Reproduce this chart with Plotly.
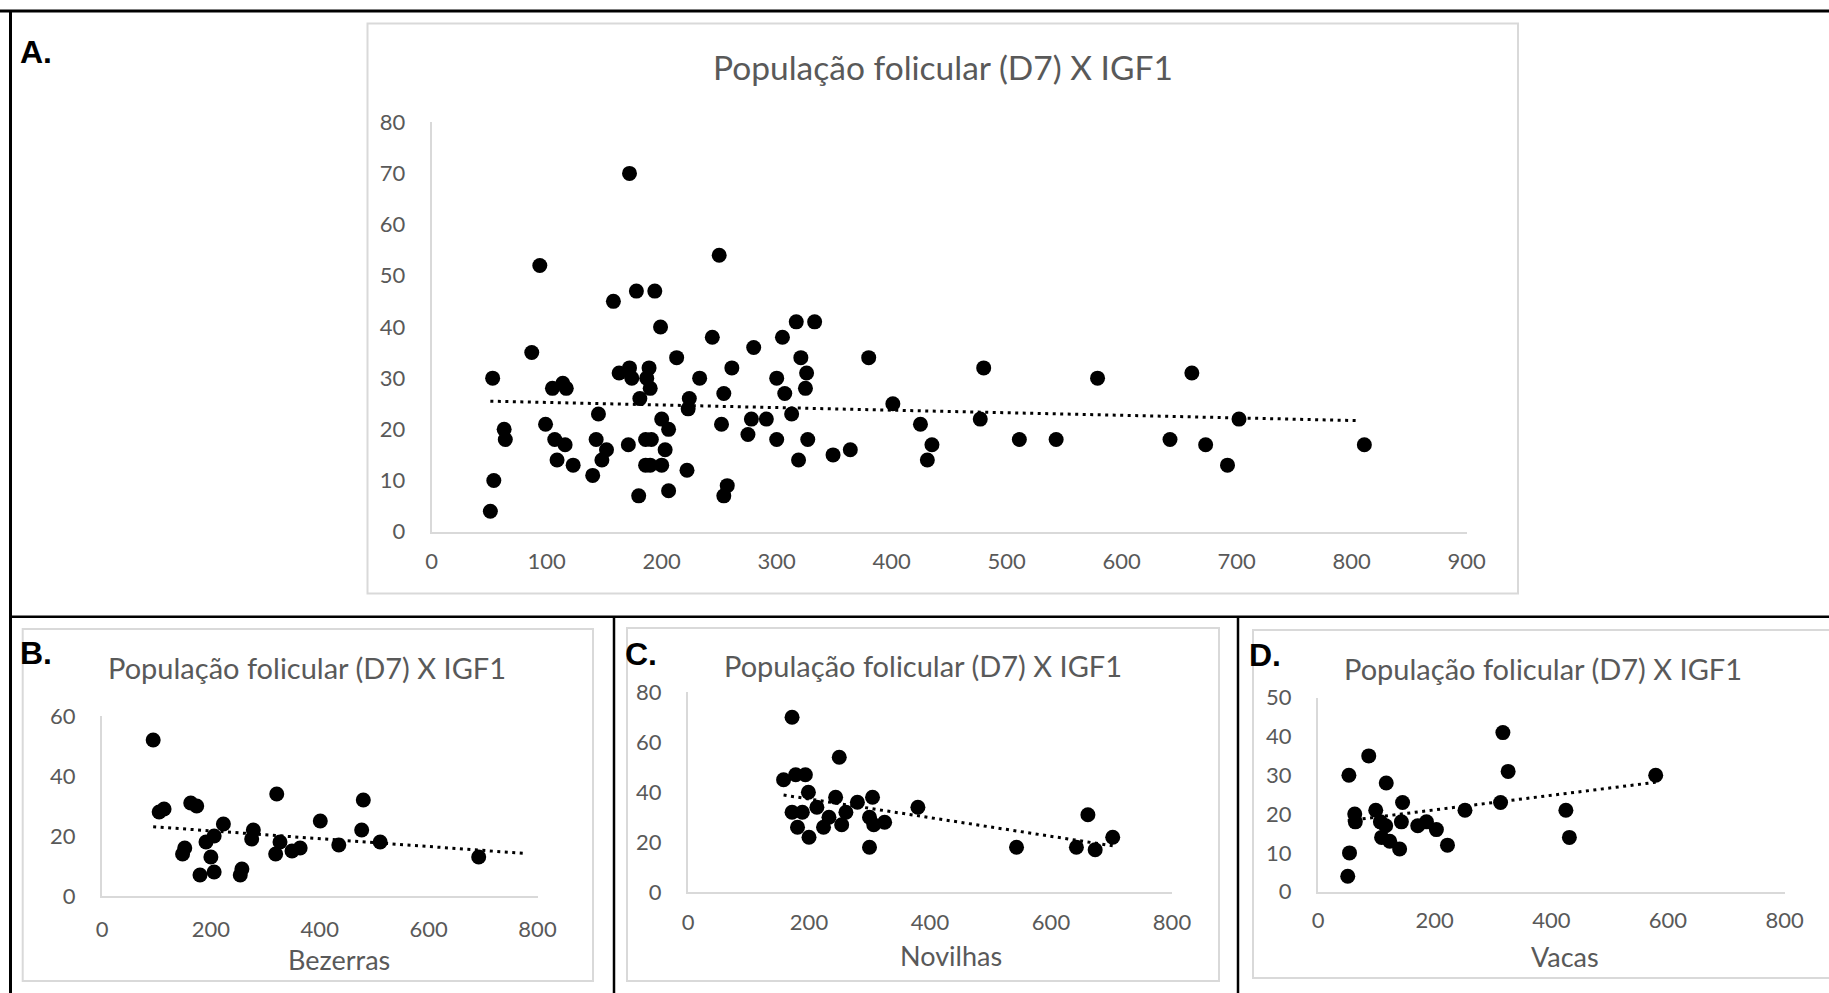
import plotly.graph_objects as go

W, H = 1829, 993

# ---------------- data (IGF1 x follicular population D7) ----------------
# Bezerras
bez_x = [94, 105, 114, 148, 152, 163, 174, 180, 191, 206, 200, 206, 223, 257, 254,
         275, 278, 319, 321, 327, 349, 364, 401, 435, 480, 477, 511, 692]
bez_y = [52, 28, 29, 14, 16, 31, 30, 7, 18, 20, 13, 8, 24, 9, 7,
         19, 22, 14, 34, 18, 15, 16, 25, 17, 32, 22, 18, 13]
# Novilhas
nov_x = [158, 172, 172, 178, 181, 189, 194, 199, 200, 213, 224, 233, 244, 250, 254,
         261, 280, 300, 300, 305, 307, 325, 380, 543, 642, 661, 673, 702]
nov_y = [45, 32, 70, 47, 26, 32, 47, 40, 22, 34, 26, 30, 38, 54, 27,
         32, 36, 30, 18, 38, 27, 28, 34, 18, 18, 31, 17, 22]
# Vacas
vac_x = [53, 54, 51, 63, 64, 87, 99, 117, 107, 116, 109, 123, 140, 143, 145,
         171, 186, 203, 222, 252, 313, 317, 326, 425, 431, 579]
vac_y = [30, 10, 4, 20, 18, 35, 21, 28, 18, 17, 14, 13, 11, 18, 23,
         17, 18, 16, 12, 21, 23, 41, 31, 21, 14, 30]
# other animals shown only in the pooled chart
other_x = [187, 190, 186, 190, 291, 333, 811]
other_y = [30, 28, 13, 13, 22, 41, 17]

all_x = bez_x + nov_x + vac_x + other_x
all_y = bez_y + nov_y + vac_y + other_y

# linear trend lines
trend_all_x, trend_all_y = [51, 806], [25.5, 21.7]
trend_bez_x, trend_bez_y = [94, 776], [23.1, 14.2]
trend_nov_x, trend_nov_y = [158, 702], [38.9, 18.6]
trend_vac_x, trend_vac_y = [51, 579], [18.3, 28.2]

title_text = "População folicular (D7) X IGF1"
x_ticks_A = [0, 100, 200, 300, 400, 500, 600, 700, 800, 900]
y_ticks_A = [0, 10, 20, 30, 40, 50, 60, 70, 80]
x_ticks_sub = [0, 200, 400, 600, 800]
y_ticks_B = [0, 20, 40, 60]
y_ticks_C = [0, 20, 40, 60, 80]
y_ticks_D = [0, 10, 20, 30, 40, 50]

# ---------------- styling ----------------
FONT = "Lato"
GREY_TXT = "#595959"
AXIS_LINE = "#d9d9d9"


def px_x(p):
    return p / W


def px_y(p):
    return 1 - p / H


fig = go.Figure()

panels = [
    ("", all_x, all_y, trend_all_x, trend_all_y, (431.7, 1466.7), (122.2, 531.7), [0, 900], [0, 80], x_ticks_A, y_ticks_A, 9),
    ("2", bez_x, bez_y, trend_bez_x, trend_bez_y, (102, 537.5), (716, 896), [0, 800], [0, 60], x_ticks_sub, y_ticks_B, 13),
    ("3", nov_x, nov_y, trend_nov_x, trend_nov_y, (688, 1172), (692.3, 892.3), [0, 800], [0, 80], x_ticks_sub, y_ticks_C, 9),
    ("4", vac_x, vac_y, trend_vac_x, trend_vac_y, (1318, 1784.6), (697.7, 891.7), [0, 800], [0, 50], x_ticks_sub, y_ticks_D, 8),
]

for suf, xs, ys, tx, ty, xdom, ydom, xr, yr, xt, yt, xstand in panels:
    xa = "x" + suf
    ya = "y" + suf
    fig.add_trace(go.Scatter(
        x=xs, y=ys, mode="markers", xaxis=xa, yaxis=ya,
        marker=dict(color="black", size=15, line=dict(width=0)),
        cliponaxis=False, showlegend=False, hoverinfo="skip"))
    fig.add_trace(go.Scatter(
        x=tx, y=ty, mode="lines", xaxis=xa, yaxis=ya,
        line=dict(color="black", width=3, dash="3px,4.5px"),
        cliponaxis=False, showlegend=False, hoverinfo="skip"))
    axkw = dict(showgrid=False, zeroline=False, showline=True, linecolor=AXIS_LINE,
                linewidth=2, ticks="", tickfont=dict(family=FONT, size=22, color=GREY_TXT),
                fixedrange=True, automargin=False)
    fig.update_layout(**{
        "xaxis" + suf: dict(domain=[px_x(xdom[0]), px_x(xdom[1])], range=xr,
                            tickvals=xt, anchor=ya, ticklabelstandoff=xstand, **axkw),
        "yaxis" + suf: dict(domain=[px_y(ydom[1]), px_y(ydom[0])], range=yr,
                            tickvals=yt, anchor=xa, ticklabelstandoff=20, **axkw),
    })

shapes = []
# chart-area boxes (light grey)
for (x0, y0, x1, y1) in [(367.5, 23.5, 1518, 593.5), (22.7, 629, 593, 981),
                         (627, 628, 1219, 981), (1253, 630, 1845, 978)]:
    shapes.append(dict(type="rect", xref="paper", yref="paper",
                       x0=px_x(x0), x1=px_x(x1), y0=px_y(y1), y1=px_y(y0),
                       line=dict(color=AXIS_LINE, width=2), fillcolor="rgba(0,0,0,0)", layer="below"))
# black table borders
for (x0, y0, x1, y1, w) in [(0, 11, 1829, 11, 3), (10.5, 11, 10.5, 993, 3),
                            (10, 616.7, 1829, 616.7, 2.5), (614, 616.7, 614, 993, 2.5),
                            (1238, 616.7, 1238, 993, 2.5)]:
    shapes.append(dict(type="line", xref="paper", yref="paper",
                       x0=px_x(x0), x1=px_x(x1), y0=px_y(y0), y1=px_y(y1),
                       line=dict(color="black", width=w)))

annotations = []
# titles
for (cx, cy, size) in [(943, 67, 33.5), (307, 667.5, 29), (923, 665.5, 29), (1543, 668.5, 29)]:
    annotations.append(dict(text=title_text, x=px_x(cx), y=px_y(cy), xref="paper", yref="paper",
                            xanchor="center", yanchor="middle", showarrow=False,
                            font=dict(family=FONT, size=size, color=GREY_TXT)))
# axis titles
for (txt, cx, cy) in [("Bezerras", 339, 959), ("Novilhas", 951, 955), ("Vacas", 1565, 956)]:
    annotations.append(dict(text=txt, x=px_x(cx), y=px_y(cy), xref="paper", yref="paper",
                            xanchor="center", yanchor="middle", showarrow=False,
                            font=dict(family=FONT, size=27, color=GREY_TXT)))
# panel letters
for (txt, lx, cy) in [("A.", 18, 52.5), ("B.", 18, 653), ("C.", 623, 654), ("D.", 1247, 655)]:
    annotations.append(dict(text="<b>" + txt + "</b>", x=px_x(lx), y=px_y(cy), xref="paper", yref="paper",
                            xanchor="left", yanchor="middle", showarrow=False,
                            font=dict(family="Liberation Sans, Arial", size=32, color="black")))

fig.update_layout(
    width=W, height=H, autosize=False,
    margin=dict(l=0, r=0, t=0, b=0, pad=0, autoexpand=False),
    paper_bgcolor="white", plot_bgcolor="rgba(0,0,0,0)",
    shapes=shapes, annotations=annotations, showlegend=False,
)

fig.write_html("out.html", config={"displayModeBar": False, "responsive": False})
